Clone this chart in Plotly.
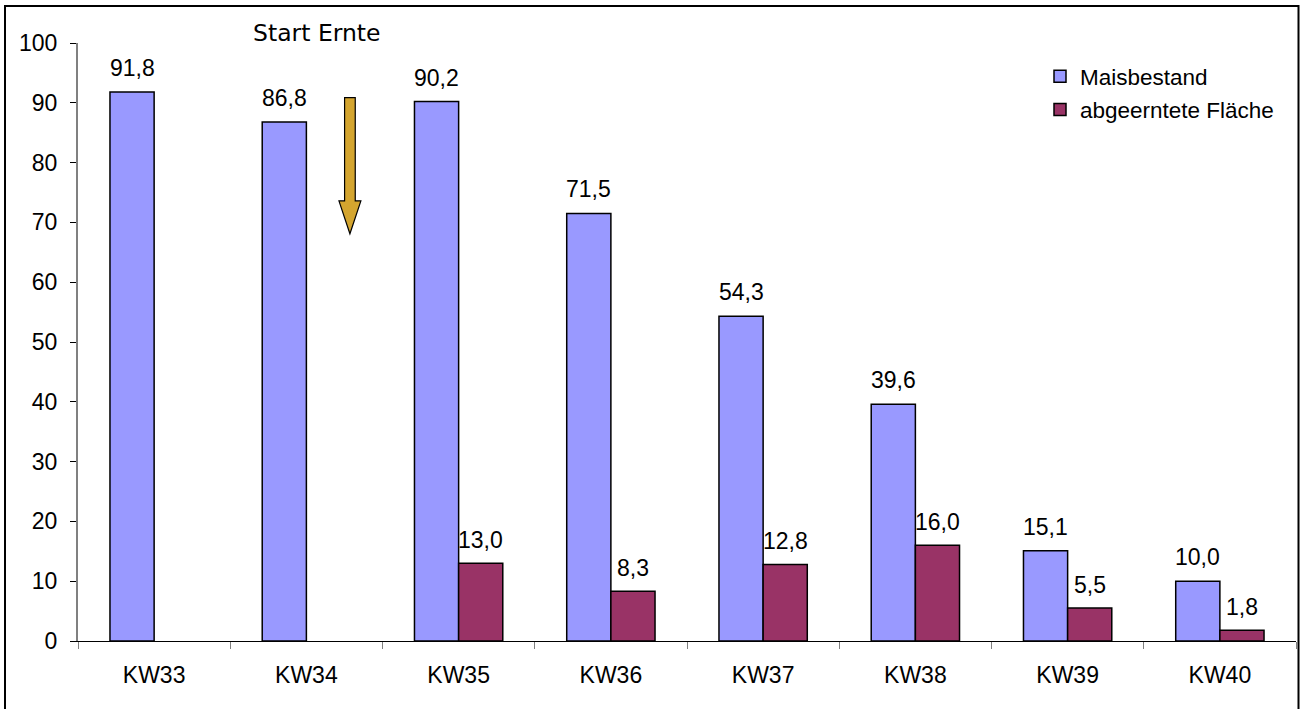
import plotly.graph_objects as go

categories = ["KW33", "KW34", "KW35", "KW36", "KW37", "KW38", "KW39", "KW40"]
maisbestand = [91.8, 86.8, 90.2, 71.5, 54.3, 39.6, 15.1, 10.0]
abgeerntet = [None, None, 13.0, 8.3, 12.8, 16.0, 5.5, 1.8]
series_names = ["Maisbestand", "abgeerntete Fläche"]
y_ticks = list(range(0, 101, 10))

BLUE = "#9999FF"
RED = "#993366"
FONT = "Liberation Sans, Arial, sans-serif"
FS = 23


def fmt(v):
    return f"{v:.1f}".replace(".", ",")


fig = go.Figure()
fig.add_trace(go.Bar(x=categories, y=maisbestand, name=series_names[0],
                     marker=dict(color=BLUE, line=dict(color="black", width=1.5)),
                     legendgroup="a"))
fig.add_trace(go.Bar(x=categories, y=abgeerntet, name=series_names[1],
                     marker=dict(color=RED, line=dict(color="black", width=1.5)),
                     legendgroup="b"))

annotations = []
for c, v in zip(categories, maisbestand):
    if v is not None:
        annotations.append(dict(x=c, y=v, text=fmt(v), showarrow=False, xref="x", yref="y",
                                xshift=-22, yanchor="bottom", yshift=9,
                                font=dict(family=FONT, size=FS, color="black")))
for c, v in zip(categories, abgeerntet):
    if v is not None:
        annotations.append(dict(x=c, y=v, text=fmt(v), showarrow=False, xref="x", yref="y",
                                xshift=22, yanchor="bottom", yshift=8,
                                font=dict(family=FONT, size=FS, color="black")))

annotations.append(dict(x=(251 - 78) / 1218, y=(641 - 33) / 598, xref="paper", yref="paper",
                        text="Start Ernte", showarrow=False, xanchor="left", yanchor="middle",
                        font=dict(family="DejaVu Sans, sans-serif", size=23.5, color="black")))

shapes = [
    # outer chart border
    dict(type="rect", xref="paper", yref="paper",
         x0=(5 - 78) / 1218, x1=(1298.5 - 78) / 1218,
         y0=(641 - 715) / 598, y1=(641 - 6) / 598,
         line=dict(color="black", width=2), fillcolor="rgba(0,0,0,0)", layer="below"),
    # harvest-start arrow
    dict(type="path", xref="x", yref="y",
         path="M 1.251 90.85 L 1.321 90.85 L 1.321 73.6 L 1.358 73.6 L 1.286 68.1 "
              "L 1.214 73.6 L 1.251 73.6 Z",
         fillcolor="#D4A52F", line=dict(color="black", width=1.2)),
]

fig.update_layout(
    width=1302, height=709,
    margin=dict(l=78, r=6, t=43, b=68),
    paper_bgcolor="white", plot_bgcolor="white",
    barmode="group", bargap=0.42, bargroupgap=0,
    font=dict(family=FONT, size=FS, color="black"),
    showlegend=True,
    legend=dict(x=(1040 - 78) / 1218, y=(641 - 55) / 598, xanchor="left", yanchor="top",
                traceorder="grouped", tracegroupgap=1,
                font=dict(family=FONT, size=22.5, color="black"),
                bgcolor="rgba(0,0,0,0)"),
    annotations=annotations,
    shapes=shapes,
)
fig.update_xaxes(type="category", showline=True, linecolor="black", linewidth=1.3,
                 ticks="outside", tickson="boundaries", ticklen=7, tickcolor="#808080",
                 tickwidth=1.3, showgrid=False, ticklabelstandoff=13,
                 tickfont=dict(family=FONT, size=FS, color="black"))
fig.update_yaxes(range=[0, 100], tickvals=y_ticks, showline=True, linecolor="#808080",
                 linewidth=2, ticks="outside", ticklen=6, tickcolor="black", tickwidth=1.3,
                 showgrid=False, zeroline=False, ticklabelstandoff=8,
                 tickfont=dict(family=FONT, size=FS, color="black"))

fig.write_html("out.html", config={"displayModeBar": False},
               post_script="document.body.style.margin='0px';")
